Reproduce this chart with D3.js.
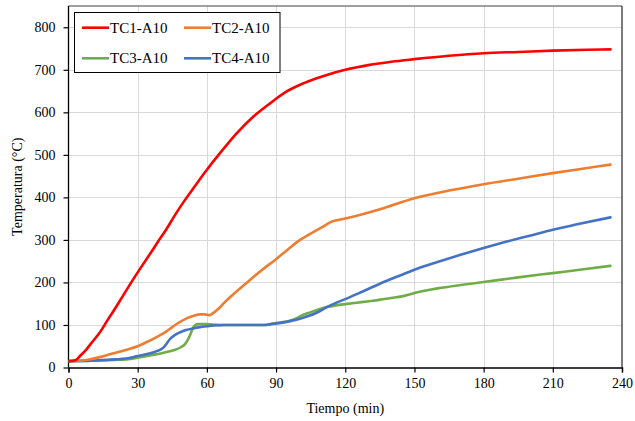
<!DOCTYPE html>
<html><head><meta charset="utf-8">
<script src="https://cdn.jsdelivr.net/npm/d3@7"></script>
<style>body{margin:0;background:#fff}svg{display:block}</style>
</head><body><svg id="c" width="635" height="421"></svg>
<script>
const FONT = "Liberation Serif";
const seriesNames = ["TC1-A10","TC2-A10","TC3-A10","TC4-A10"];
const seriesColors = ["#ff0000","#ed7d31","#70ad47","#4472c4"];
const xTicks = [0,30,60,90,120,150,180,210,240];
const yTicks = [0,100,200,300,400,500,600,700,800];

const tc1T = [0,2,3.3,5,7.7,10,13.4,17,20.7,24,27.9,31.5,35.1,38.7,42.3,46.7,50,55,60,65.7,73,80.2,87.4,94.6,101.8,107,112,120,130,140,150,165,180,195,210,225,235];
const tc1V = [15,16,18,27,42,58,81,112,143,172,206,236,265,295,324,363,390,428,465,504,551,590,621,649,668,679,688,700,711,719,725,733,739,742,745,747,748];

const tc2T = [0,5,9,14,18,22,26,30,34,38,42,45,48,51,54,57,59,61,63,65,68,71,74,78.7,84,89.6,95,100.4,105,110,114.1,117,120.6,135,150,165,180,195,210,225,235];
const tc2V = [15,16,19,25,31,37,43,50,60,71,83,95,106,115,121,125,125,123,129,138,155,170,184,206,230,253,277,300,315,330,343,347,351,372,398,416,431,444,457,469,477];

const tc3T = [0,10,20,25,31,36,40,43,46,48.5,50.5,52,53,54,55,56,60,65,75,85,88,92,96,99,101,104,108,112,116,120,126,132,137,142,146,150,155,160,170,180,195,210,225,235];
const tc3V = [15,16,18,19,24,29,33,37,41,47,55,68,80,93,100,102,102,100,100,100,103,106,110,116,122,128,136,142,146,149,153,157,161,165,169,175,181,186,194,201,212,222,232,239];

const tc4T = [0,10,20,25,30,35,38,41,42.5,44,46,48.5,51,54,57,60,63,68,85,88,92,96,100,104,108,112,116,119.2,126,135,144,150,160,170,180,190,200,210,220,235];
const tc4V = [15,16,19,21,27,33,38,46,56,67,76,83,88,92,95,97,99,100,100,102,105,109,114,121,130,142,152,159,175,197,217,230,248,265,281,296,310,324,336,353];

const seriesT = [tc1T,tc2T,tc3T,tc4T];
const seriesV = [tc1V,tc2V,tc3V,tc4V];

const svg = d3.select("#c");
const L=68.5, R=622, T=6, B=367.5;
const x = d3.scaleLinear().domain([0,240]).range([L,R]);
const y = d3.scaleLinear().domain([0,850]).range([B,T]);

// grid
svg.append("g").selectAll("line").data(yTicks.filter(d=>d>0)).join("line")
  .attr("x1",L).attr("x2",R).attr("y1",d=>Math.round(y(d))+0.5).attr("y2",d=>Math.round(y(d))+0.5)
  .attr("stroke","#d9d9d9").attr("stroke-width",1);
svg.append("g").selectAll("line").data(xTicks.filter(d=>d>0&&d<240)).join("line")
  .attr("y1",T).attr("y2",B).attr("x1",d=>Math.round(x(d))+0.5).attr("x2",d=>Math.round(x(d))+0.5)
  .attr("stroke","#d9d9d9").attr("stroke-width",1);

// frame top and right
svg.append("line").attr("x1",L).attr("x2",R).attr("y1",T).attr("y2",T).attr("stroke","#808080").attr("stroke-width",1.5);
svg.append("line").attr("x1",R).attr("x2",R).attr("y1",T).attr("y2",B).attr("stroke","#222").attr("stroke-width",1.2);

// axes
const xAxis = svg.append("g").attr("transform",`translate(0,${B})`)
  .call(d3.axisBottom(x).tickValues(xTicks).tickSize(5).tickPadding(6));
const yAxis = svg.append("g").attr("transform",`translate(${L},0)`)
  .call(d3.axisLeft(y).tickValues(yTicks).tickSize(5).tickPadding(8));
[xAxis,yAxis].forEach(g=>{
  g.attr("font-family",FONT).attr("font-size",14);
  g.select(".domain").attr("stroke","#000").attr("stroke-width",1.3);
  g.selectAll(".tick line").attr("stroke","#000").attr("stroke-width",1.2);
  g.selectAll("text").attr("fill","#000").attr("font-family",FONT);
});
yAxis.select(".domain").attr("d",`M0,${T}V${B}`);

// lines
svg.append("defs").append("clipPath").attr("id","clip").append("rect")
  .attr("x",L).attr("y",T).attr("width",R-L).attr("height",B-T);
const line = d3.line().x(d=>x(d[0])).y(d=>y(d[1])).curve(d3.curveMonotoneX);
const g = svg.append("g").attr("clip-path","url(#clip)");
[2,3,1,0].forEach(i=>{
  const pts = seriesT[i].map((t,k)=>[t,seriesV[i][k]]);
  g.append("path").attr("d",line(pts)).attr("fill","none")
    .attr("stroke",seriesColors[i]).attr("stroke-width",2.6).attr("stroke-linejoin","round").attr("stroke-linecap","round");
});

// legend
const lg = svg.append("g");
lg.append("rect").attr("x",74.5).attr("y",12.5).attr("width",205.5).attr("height",60)
  .attr("fill","#fff").attr("stroke","#000").attr("stroke-width",1);
seriesNames.forEach((n,i)=>{
  const cx = i%2===0 ? 82 : 184;
  const cy = i<2 ? 27.7 : 58.3;
  lg.append("line").attr("x1",cx).attr("x2",cx+27).attr("y1",cy).attr("y2",cy)
    .attr("stroke",seriesColors[i]).attr("stroke-width",2.6);
  lg.append("text").attr("x",cx+28).attr("y",cy+5).attr("fill","#000")
    .attr("font-family",FONT).attr("font-size",15).text(n);
});

// axis titles
svg.append("text").attr("x",(L+R)/2).attr("y",413).attr("text-anchor","middle")
  .attr("font-family",FONT).attr("font-size",14).text("Tiempo (min)");
svg.append("text").attr("transform",`translate(22,${(T+B)/2}) rotate(-90)`).attr("text-anchor","middle")
  .attr("font-family",FONT).attr("font-size",14).text("Temperatura (°C)");
</script></body></html>
